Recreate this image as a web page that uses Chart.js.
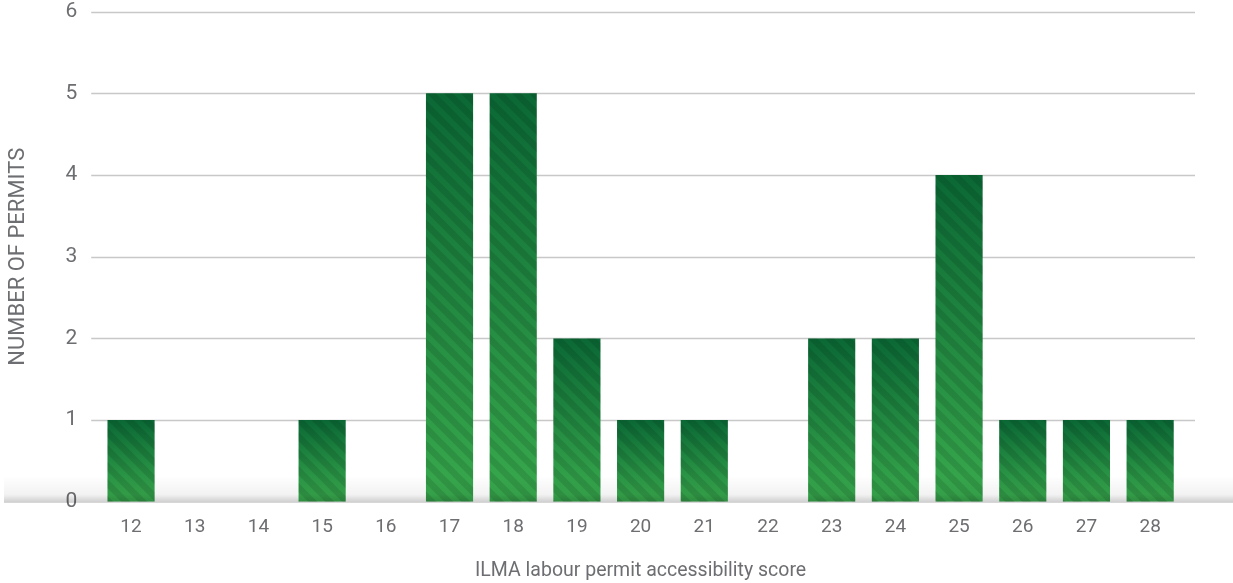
<!DOCTYPE html>
<html>
<head>
<meta charset="utf-8">
<script src="https://cdn.jsdelivr.net/npm/chart.js@4.4.1/dist/chart.umd.min.js"></script>
<style>
    html, body { margin: 0; padding: 0; background: #fff; }
    #wrap { position: relative; width: 1233px; height: 583px; overflow: hidden; }
    #myChart { position: absolute; left: 0; top: -15px; }
</style>
</head>
<body>
<div id="wrap"><canvas id="myChart" width="1233" height="599"></canvas></div>
<script>
const scores = ["12", "13", "14", "15", "16", "17", "18", "19", "20", "21", "22", "23", "24", "25", "26", "27", "28"];
const permits = [1, 0, 0, 1, 0, 5, 5, 2, 1, 1, 0, 2, 2, 4, 1, 1, 1];
const yTicks = [0, 1, 2, 3, 4, 5, 6];

const FONT = "Roboto, 'Liberation Sans', sans-serif";
const GREY = "#6d6e71";

// diagonal stripe tile, drawn over each bar
function stripePattern(ctx) {
    const tile = document.createElement("canvas");
    const s = 17;
    tile.width = s;
    tile.height = s;
    const t = tile.getContext("2d");
    t.strokeStyle = "rgba(0, 0, 0, 0.1)";
    t.lineWidth = 6.5;
    t.lineCap = "square";
    [-s, 0, s].forEach((o) => {
        t.beginPath();
        t.moveTo(o, 0);
        t.lineTo(o + s, s);
        t.stroke();
    });
    return ctx.createPattern(tile, "repeat");
}

function barGradient(context) {
    const chart = context.chart;
    const y = chart.scales && chart.scales.y;
    if (!y || context.raw === undefined) return "#1f8a42";
    const top = y.getPixelForValue(context.raw);
    const base = y.getPixelForValue(0);
    if (!isFinite(top) || !isFinite(base) || top === base) return "#1f8a42";
    const g = chart.ctx.createLinearGradient(0, top, 0, base);
    g.addColorStop(0, "#0b6835");
    g.addColorStop(1, "#38a94d");
    return g;
}

const extras = {
    id: "extras",
    beforeDatasetsDraw(chart) {
        const { ctx, chartArea, scales } = chart;
        ctx.save();
        ctx.strokeStyle = "#c8c8c8";
        ctx.lineWidth = 1.3;
        yTicks.forEach((v) => {
            if (v === 0) return;
            const y = Math.round(scales.y.getPixelForValue(v)) + 0.5;
            ctx.beginPath();
            ctx.moveTo(chartArea.left - 8, y);
            ctx.lineTo(chartArea.right + 13, y);
            ctx.stroke();
        });
        ctx.restore();
    },
    afterDatasetsDraw(chart) {
        const { ctx, scales } = chart;
        const meta = chart.getDatasetMeta(0);
        ctx.save();
        const pat = stripePattern(ctx);
        meta.data.forEach((bar) => {
            const top = Math.min(bar.y, bar.base);
            const h = Math.abs(bar.base - bar.y);
            if (h < 1) return;
            ctx.fillStyle = pat;
            ctx.fillRect(bar.x - bar.width / 2, top, bar.width, h);
        });
        // soft shadow along the baseline
        const y0 = scales.y.getPixelForValue(0);
        const sh = ctx.createLinearGradient(0, y0 - 26, 0, y0 + 1);
        sh.addColorStop(0, "rgba(0,0,0,0)");
        sh.addColorStop(0.7, "rgba(0,0,0,0.05)");
        sh.addColorStop(1, "rgba(0,0,0,0.2)");
        ctx.fillStyle = sh;
        ctx.fillRect(4, y0 - 26, chart.width - 4, 27);
        ctx.restore();
    },
};

function buildChart() {
    const ctx = document.getElementById("myChart").getContext("2d");
    return new Chart(ctx, {
        type: "bar",
        data: {
            labels: scores,
            datasets: [
                {
                    label: "Number of permits",
                    data: permits,
                    backgroundColor: barGradient,
                    borderWidth: 0,
                    categoryPercentage: 1,
                    barPercentage: 0.74,
                },
            ],
        },
        options: {
            responsive: false,
            animation: false,
            layout: { padding: { top: 0, right: 51, bottom: 0, left: 3 } },
            plugins: { legend: { display: false }, tooltip: { enabled: false } },
            scales: {
                x: {
                    grid: { display: false },
                    border: { display: false },
                    ticks: { color: GREY, font: { family: FONT, size: 19 }, padding: 6 },
                    title: {
                        display: true,
                        text: "ILMA labour permit accessibility score",
                        color: GREY,
                        font: { family: FONT, size: 19.5 },
                        padding: { top: 15, bottom: 1 },
                    },
                },
                y: {
                    min: 0,
                    max: 6,
                    afterBuildTicks: (axis) => {
                        axis.ticks = yTicks.map((v) => ({ value: v }));
                    },
                    grid: { display: false },
                    border: { display: false },
                    ticks: { color: GREY, font: { family: FONT, size: 21 }, padding: 14 },
                    title: {
                        display: true,
                        text: "NUMBER OF PERMITS",
                        color: GREY,
                        font: { family: FONT, size: 22 },
                        padding: { top: 2, bottom: 20 },
                    },
                },
            },
        },
        plugins: [extras],
    });
}

buildChart();
</script>
</body>
</html>
